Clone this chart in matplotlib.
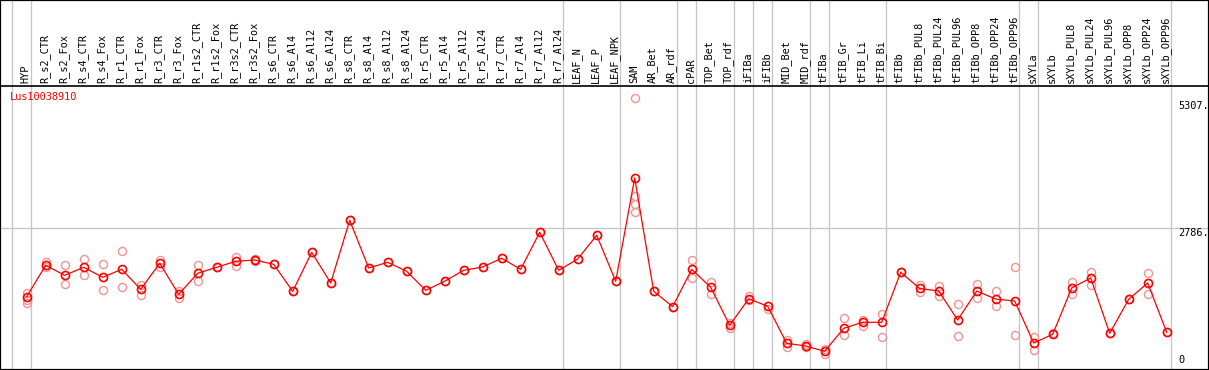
import numpy as np
import matplotlib
matplotlib.use('Agg')
import matplotlib.pyplot as plt
import matplotlib.transforms as mtransforms

gene = 'Lus10038910'

samples = ['HYP', 'R_s2_CTR', 'R_s2_Fox', 'R_s4_CTR', 'R_s4_Fox', 'R_r1_CTR', 'R_r1_Fox',
           'R_r3_CTR', 'R_r3_Fox', 'R_r1s2_CTR', 'R_r1s2_Fox', 'R_r3s2_CTR', 'R_r3s2_Fox',
           'R_s6_CTR', 'R_s6_Al4', 'R_s6_Al12', 'R_s6_Al24', 'R_s8_CTR', 'R_s8_Al4',
           'R_s8_Al12', 'R_s8_Al24', 'R_r5_CTR', 'R_r5_Al4', 'R_r5_Al12', 'R_r5_Al24',
           'R_r7_CTR', 'R_r7_Al4', 'R_r7_Al12', 'R_r7_Al24', 'LEAF_N', 'LEAF_P', 'LEAF_NPK',
           'SAM', 'AR_Bet', 'AR_rdf', 'cPAR', 'TOP_Bet', 'TOP_rdf', 'iFIBa', 'iFIBb',
           'MID_Bet', 'MID_rdf', 'tFIBa', 'tFIB_Gr', 'tFIB_Li', 'tFIB_Bi', 'tFIBb',
           'tFIBb_PUL8', 'tFIBb_PUL24', 'tFIBb_PUL96', 'tFIBb_OPP8', 'tFIBb_OPP24',
           'tFIBb_OPP96', 'sXYLa', 'sXYLb', 'sXYLb_PUL8', 'sXYLb_PUL24', 'sXYLb_PUL96',
           'sXYLb_OPP8', 'sXYLb_OPP24', 'sXYLb_OPP96']

means = [1450, 2061, 1866, 2022, 1827, 1983, 1594, 2100, 1497, 1905, 2022, 2138, 2164,
         2080, 1555, 2313, 1717, 2935, 2008, 2119, 1944, 1575, 1750, 1963, 2028, 2197,
         1983, 2702, 1963, 2183, 2644, 1750, 3758, 1555, 1256, 1983, 1633, 894, 1411,
         1264, 544, 492, 389, 836, 953, 953, 1925, 1610, 1561, 997, 1561, 1405, 1367,
         550, 719, 1619, 1814, 739, 1400, 1717, 758]

# replicate values per sample
reps = [[1522, 1386, 1328], [2119, 2030], [2061, 1691], [2183, 1866], [2080, 1575],
        [2339, 1633], [1684, 1489], [2164, 2034], [1561, 1431], [2061, 1750], [2022],
        [2216, 2047], [2183, 2138], [2080], [1555], [2313], [1717], [2935], [2008],
        [2119], [1944], [1575], [1750], [1963], [2028], [2197], [1983], [2702], [1963],
        [2183], [2644], [1750], [5307, 3408, 3246, 3097], [1555], [1256], [2158, 1808],
        [1736, 1503], [945, 848], [1464, 1386], [1217], [608, 478], [525, 472],
        [428, 336], [1030, 706], [997, 881], [1114, 661], [1925], [1687, 1532],
        [1664, 1470], [1302, 680], [1697, 1425], [1561, 1264], [2022, 700], [673, 420],
        [739], [1736, 1503], [1925, 1684], [739], [1400], [1905, 1497], [758]]

# group separators drawn after these sample numbers (1-based)
group_ends = [0, 1, 29, 32, 35, 36, 38, 39, 40, 42, 43, 46, 53, 54, 61]

ref_values = [5307, 2786, 0]
ref_labels = ['5307.', '2786.', '0']

font = 'DejaVu Sans Mono'
grey = '#c4c4c4'

fig = plt.figure(figsize=(12.09, 3.70), dpi=100)
ax = fig.add_axes([0, 0, 1, 1])
x = np.arange(len(samples))
ax.set_xlim(-1.405, 62.226)
ax.set_ylim(25.3, 7218)
ax.set_xticks([])
ax.set_yticks([])
for s in ax.spines.values():
    s.set_linewidth(1.6)
    s.set_color('black')

head_y = 1 - 85.5 / 370

ax.axhline(ref_values[1], color=grey, lw=0.9, zorder=1)
for g in group_ends:
    ax.axvline(g - 1 + 0.21, color=grey, lw=0.9, zorder=1)
ax.plot([0, 1], [head_y, head_y], color='black', lw=1.2, transform=ax.transAxes, zorder=3)

for j, r in enumerate(reps):
    ax.plot([j] * len(r), r, ls='none', marker='o', ms=5.8, mfc='none', mec='#f29494', mew=1.0, zorder=2)
ax.plot(x, means, color='red', lw=0.9, marker='o', ms=5.8, mfc='none', mec='red', mew=1.2, zorder=4)

trans = mtransforms.blended_transform_factory(ax.transData, ax.transAxes)
for j, name in enumerate(samples):
    ax.text(j - 0.05, 1 - 83 / 370, name, rotation=90, ha='center', va='bottom',
            transform=trans, fontsize=7.4, family=font)

trans2 = mtransforms.blended_transform_factory(ax.transAxes, ax.transData)
for v, lab in zip(ref_values, ref_labels):
    if v == 0:
        t = mtransforms.offset_copy(trans2, fig=fig, y=6, units='dots')
        va = 'bottom'
    elif v == ref_values[0]:
        t = mtransforms.offset_copy(trans2, fig=fig, y=-3, units='dots')
        va = 'top'
    else:
        t = trans2
        va = 'top'
    ax.text(1178 / 1209, v, lab, ha='left', va=va, transform=t, fontsize=7.4, family=font)

fig.text(10 / 1209, 1 - 97 / 370, gene, color='red', ha='left', va='center', fontsize=7.4, family=font)

fig.savefig('out.png', dpi=100)
